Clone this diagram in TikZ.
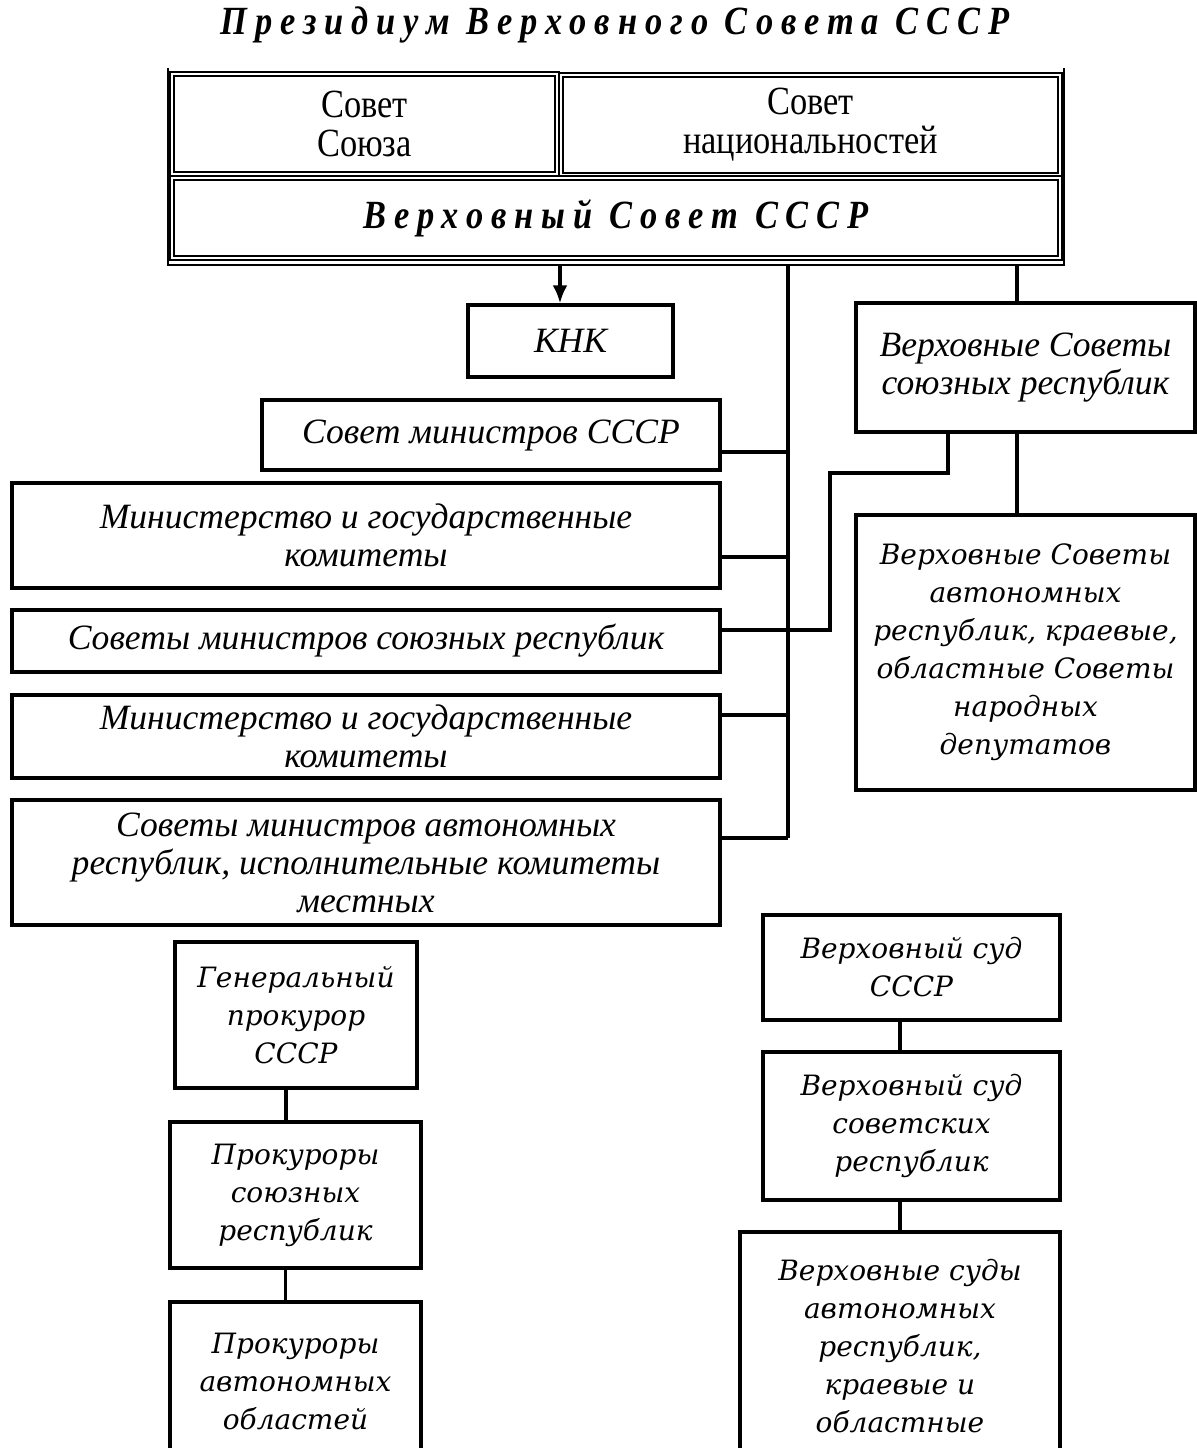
\documentclass[tikz,border=0pt]{standalone}
\usepackage{fontspec}
\setmainfont{Liberation Serif}
\newfontfamily\wideit{DejaVu Serif}
\newfontfamily\tallrm{Liberation Serif}[FakeStretch=0.86]
\usetikzlibrary{arrows,arrows.meta,calc,positioning}
\tikzset{%
	block/.style    = {draw, rectangle, line width=1.7pt, align=center, inner sep=2pt},
	house/.style    = {draw, rectangle, double, double distance=1pt, line width=0.9pt, align=center},
	narrow/.style   = {font=\fontsize{17.8pt}{19pt}\selectfont\itshape}, % italic text
	wide/.style     = {font=\wideit\fontsize{14pt}{19pt}\selectfont\itshape}, % wide italic
	spaced/.style   = {font=\tallrm\fontsize{20pt}{22pt}\selectfont\bfseries\itshape\addfontfeature{LetterSpace=20}},
	link/.style     = {line width=1.7pt},
	waypoint/.style = {coordinate},
}

\begin{document}
\begin{tikzpicture}[x=0.5pt, y=-0.5pt, >={Latex[length=9pt,width=7.5pt]}]
		\useasboundingbox (0,0) rectangle (1197,1448);
		\node[spaced] (title) at (615,25) {Президиум Верховного Совета СССР};
		% top block
		\node[house, minimum width=192.5pt, minimum height=50pt, font=\tallrm\fontsize{20pt}{19.5pt}\selectfont] (sojuz) at (364.5,124) {Совет\\Союза};
		\node[house, minimum width=249.5pt, minimum height=50pt, font=\tallrm\fontsize{20pt}{19.5pt}\selectfont] (nats) at (810.5,125) {Совет\\национальностей};
		\node[house, spaced, minimum width=444pt, minimum height=40pt] (vsovet) at (616,218) {Верховный Совет СССР};
		\draw[line width=1.3pt] (168,68) -- (168,265) -- (1064,265) -- (1064,68);
		\node[waypoint] (fa) at (560,265) {};
		\node[waypoint] (fb) at (788,265) {};
		\node[waypoint] (fc) at (1017,265) {};
		\node[waypoint] (spine) at (788,838) {};
		\node[waypoint] (kink) at (830,473) {};
		% executive
		\node[block, narrow, minimum width=102.5pt, minimum height=36pt] (knk) at (570.5,341) {КНК};
		\node[block, narrow, minimum width=229pt, minimum height=35pt] (sm) at (491,435) {Совет министров СССР};
		\node[block, narrow, minimum width=354pt, minimum height=52.5pt] (mgk1) at (366,535.5) {Министерство и государственные\\комитеты};
		\node[block, narrow, minimum width=354pt, minimum height=31pt] (smsr) at (366,641) {Советы министров союзных республик};
		\node[block, narrow, minimum width=354pt, minimum height=41.5pt] (mgk2) at (366,736.5) {Министерство и государственные\\комитеты};
		\node[block, narrow, minimum width=354pt, minimum height=62.5pt] (smar) at (366,862.5) {Советы министров автономных\\республик, исполнительные комитеты\\местных};
		% soviets
		\node[block, narrow, minimum width=169.5pt, minimum height=64.5pt] (vss) at (1025.5,367.5) {Верховные Советы\\союзных республик};
		\node[block, wide, minimum width=169.5pt, minimum height=137.5pt] (vsa) at (1025.5,652.5) {Верховные Советы\\автономных\\республик, краевые,\\областные Советы\\народных\\депутатов};
		% prosecutors
		\node[block, wide, minimum width=121pt, minimum height=73pt] (gp) at (296,1015) {Генеральный\\прокурор\\СССР};
		\node[block, wide, minimum width=125.5pt, minimum height=73pt] (psr) at (295.5,1195) {Прокуроры\\союзных\\республик};
		\node[block, wide, minimum width=125.5pt, minimum height=79pt] (pao) at (295.5,1381) {Прокуроры\\автономных\\областей};
		% courts
		\node[block, wide, minimum width=148.5pt, minimum height=52.5pt] (vsud) at (911.5,967.5) {Верховный суд\\СССР};
		\node[block, wide, minimum width=148.5pt, minimum height=74pt] (vsud2) at (911.5,1126) {Верховный суд\\советских\\республик};
		\node[block, wide, minimum width=160pt, minimum height=114pt] (vsud3) at (900,1346) {Верховные суды\\автономных\\республик,\\краевые и\\областные};
		% connectors
		\draw[->, link] (fa) -- (fa |- knk.north);
		\draw[link] (fb) -- (spine);
		\draw[link] (fc) -- (fc |- vss.north);
		\foreach \n/\s in {sm/-8.5, mgk1/-10.75, mgk2/10.75, smar/12.25}
			\draw[link] ([yshift=\s pt]\n.east) coordinate (tmp) -- (tmp -| spine);
		\draw[link] ([xshift=-38.75pt]vss.south) |- (kink) |- ([yshift=5.5pt]smsr.east);
		\draw[link] (fc |- vss.south) -- (fc |- vsa.north);
		\draw[link] ([xshift=-5pt]gp.south) -- ([xshift=-5pt]gp.south |- psr.north);
		\draw[link] ([xshift=-5pt]psr.south) -- ([xshift=-5pt]psr.south |- pao.north);
		\draw[link] ([xshift=-5.75pt]vsud.south) -- ([xshift=-5.75pt]vsud.south |- vsud2.north);
		\draw[link] ([xshift=-5.75pt]vsud2.south) -- ([xshift=-5.75pt]vsud2.south |- vsud3.north);
\end{tikzpicture}
\end{document}
